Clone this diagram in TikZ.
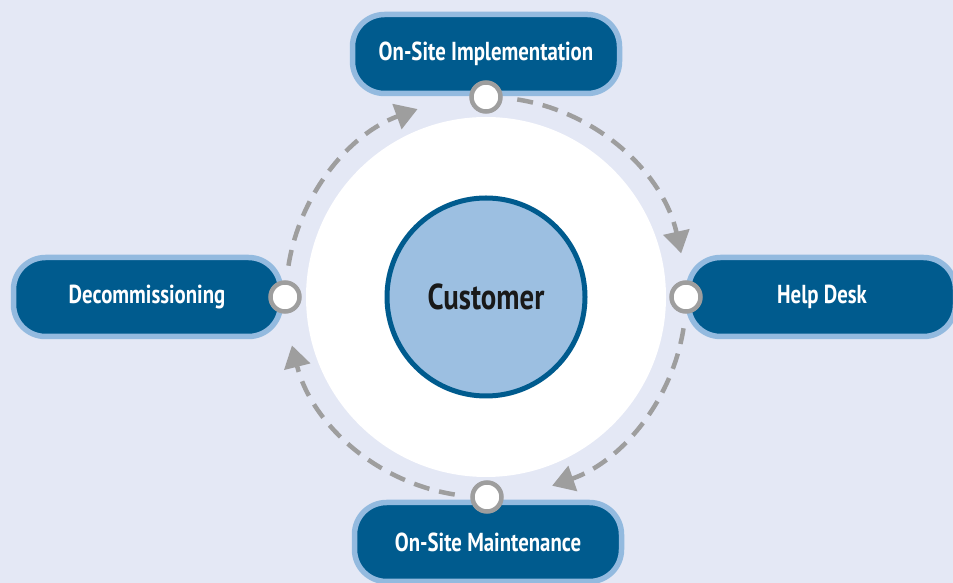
\documentclass[tikz,border=0pt]{standalone}
\usepackage{fontspec}
\setmainfont{PT Sans}[FakeStretch=0.8]
\usetikzlibrary{arrows.meta}

\definecolor{backblue}{HTML}{E4E8F5}
\definecolor{darkblue}{HTML}{005B8E}
\definecolor{paleblue}{HTML}{93BADF}
\definecolor{custblue}{HTML}{9CBFE1}
\definecolor{dashgray}{HTML}{9E9E9E}

\begin{document}
\begin{tikzpicture}[x=1pt,y=1pt,>={Triangle[length=22pt,width=26pt]},
                    font=\bfseries]
  \tikzstyle{stage}=[draw=paleblue,line width=5.5pt,fill=darkblue,text=white,
                     rounded corners=32pt,minimum width=267pt,minimum height=79pt,
                     font=\fontsize{26}{29}\selectfont\bfseries]
  \tikzstyle{port}=[circle,draw=dashgray,line width=4.5pt,fill=white,
                    minimum size=29pt,inner sep=0pt]
  \tikzstyle{flow}=[->,draw=dashgray,line width=4.5pt,
                    dash pattern=on 16pt off 10pt]

  \fill[backblue] (0,0) rectangle (953,583);
  \clip (0,0) rectangle (953,583);

  \fill[white] (486,286) circle (180);
  \node[circle,draw=darkblue,fill=custblue,line width=5pt,minimum size=198pt,
        text=black!90,font=\fontsize{36}{40}\selectfont\bfseries]
        (cust) at (486,286) {Customer};

  \node[stage] (impl)   at (486,529) {On-Site Implementation};
  \node[stage] (help)   at (822,286) {Help Desk};
  \node[stage] (maint)  at (488,41)  {On-Site Maintenance};
  \node[stage] (decomm) at (147,286) {Decommissioning};

  \node[port] (pimpl)   at (486,486) {};
  \node[port] (phelp)   at (686,286) {};
  \node[port] (pmaint)  at (487,86)  {};
  \node[port] (pdecomm) at (285,286) {};

  \path (cust) ++(81:200)  coordinate (a1)
        (cust) ++(-9:200)  coordinate (a2)
        (cust) ++(-99:200) coordinate (a3)
        (cust) ++(171:200) coordinate (a4);

  \draw[flow] (a1) arc[start angle=81,end angle=12.6,radius=200];
  \draw[flow] (a2) arc[start angle=-9,end angle=-70.7,radius=200];
  \draw[flow] (a3) arc[start angle=-99,end angle=-166,radius=200];
  \draw[flow] (a4) arc[start angle=171,end angle=110,radius=200];
\end{tikzpicture}
\end{document}
